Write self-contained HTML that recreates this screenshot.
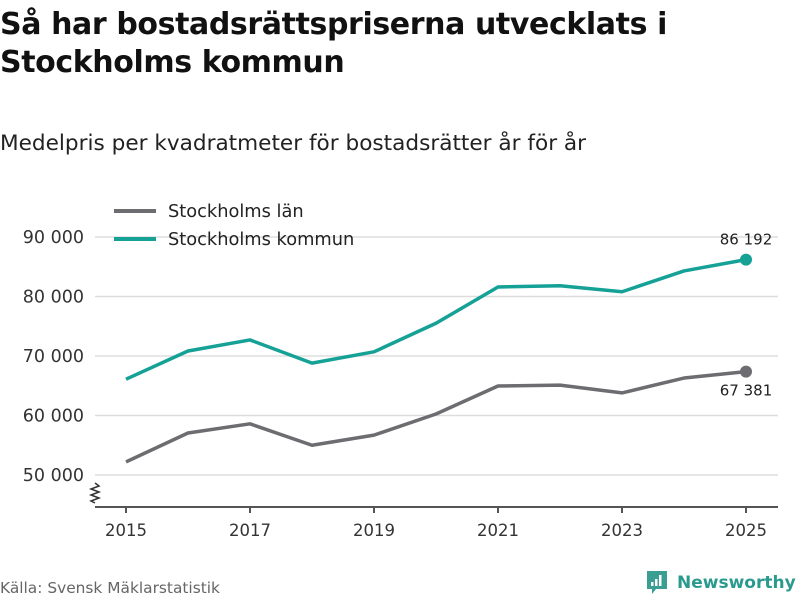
<!DOCTYPE html>
<html><head><meta charset="utf-8"><style>
body{margin:0;width:800px;height:600px;background:#fff;font-family:"Liberation Sans","DejaVu Sans",sans-serif;overflow:hidden;position:relative}
.t{position:absolute;left:0;margin:0}
</style></head><body>
<h1 class="t" style="top:6px;font-size:30px;line-height:38px;font-weight:bold;color:#111;font-family:'DejaVu Sans',sans-serif;letter-spacing:-0.4px">Så har bostadsrättspriserna utvecklats i<br>Stockholms kommun</h1>
<div class="t" style="top:131px;font-size:21.6px;color:#222;font-family:'DejaVu Sans',sans-serif">Medelpris per kvadratmeter för bostadsrätter år för år</div>
<svg id="c" width="800" height="600" style="position:absolute;left:0;top:0" font-family="DejaVu Sans, sans-serif"></svg>
<div class="t" style="top:579px;font-size:15.4px;color:#666;font-family:'DejaVu Sans',sans-serif">Källa: Svensk Mäklarstatistik</div>
<div style="position:absolute;left:645px;top:570px;display:flex;align-items:center;color:#2a9a8e;font-weight:bold;font-size:17px;font-family:'DejaVu Sans',sans-serif">
<svg width="24" height="26" viewBox="0 0 24 26"><path d="M2 1h20v18h-11l-4 5v-5h-5z" fill="#3a9e92"/><rect x="6" y="12" width="2.5" height="4" fill="#fff"/><rect x="10" y="9" width="2.5" height="7" fill="#fff"/><rect x="14" y="5" width="2.5" height="11" fill="#fff"/></svg>
<span style="margin-left:8px">Newsworthy</span></div>
<script>
const years=[2015,2016,2017,2018,2019,2020,2021,2022,2023,2024,2025];
const lan=[52200,57060,58600,55000,56700,60250,64960,65100,63800,66300,67381];
const kommun=[66100,70840,72700,68800,70700,75500,81600,81800,80800,84300,86192];
const yTicks=[50000,60000,70000,80000,90000];
const xTicks=[2015,2017,2019,2021,2023,2025];
const svg=document.getElementById('c');const NS='http://www.w3.org/2000/svg';
const x=v=>126+(v-2015)*62;const y=v=>475-(v-50000)*0.00595;
function mk(t,a,p){const e=document.createElementNS(NS,t);for(const k in a)e.setAttribute(k,a[k]);(p||svg).appendChild(e);return e;}
const fmt=v=>String(v).replace(/\B(?=(\d{3})+(?!\d))/g,' ');
yTicks.forEach(v=>{const l=mk('line',{x1:95,x2:778,y1:y(v),y2:y(v),stroke:'#ddd','stroke-width':1.5});

const t=mk('text',{x:84,y:y(v)+6,'text-anchor':'end','font-size':17.5,fill:'#333'});t.textContent=fmt(v);
});
const ax=mk('line',{x1:95,x2:778,y1:507,y2:507,stroke:'#555','stroke-width':2});

const br=mk('path',{d:'M95 483 l4 3 -8 3 8 3 -8 3 8 3 -8 3 4 2',fill:'none',stroke:'#333','stroke-width':1.5});

xTicks.forEach(v=>{mk('line',{x1:x(v),x2:x(v),y1:507,y2:513,stroke:'#555','stroke-width':2});
const t=mk('text',{x:x(v),y:536,'text-anchor':'middle','font-size':16.5,fill:'#333'});t.textContent=v;
});
function series(vals,col,name){const d=vals.map((v,i)=>(i?'L':'M')+x(years[i])+' '+y(v)).join(' ');
const p=mk('path',{d,fill:'none',stroke:col,'stroke-width':3.5,'stroke-linejoin':'round'});

const n=vals.length-1;const c=mk('circle',{cx:x(years[n]),cy:y(vals[n]),r:6,fill:col});
return vals[n];}
const lv=series(lan,'#6d6d71','stockholms-lan');const kv=series(kommun,'#15a196','stockholms-kommun');
let t=mk('text',{x:746,y:y(kv)-15,'text-anchor':'middle','font-size':15,fill:'#222'});t.textContent=fmt(kv);

t=mk('text',{x:746,y:y(lv)+24,'text-anchor':'middle','font-size':15,fill:'#222'});t.textContent=fmt(lv);

[['Stockholms län','#6d6d71',211],['Stockholms kommun','#15a196',239]].forEach(([n,c,yy])=>{
const g=mk('g',{});
mk('line',{x1:114,x2:156,y1:yy,y2:yy,stroke:c,'stroke-width':4},g);
const tt=mk('text',{x:168,y:yy+6,'font-size':17.8,fill:'#222'},g);tt.textContent=n;});
</script>
</body></html>
